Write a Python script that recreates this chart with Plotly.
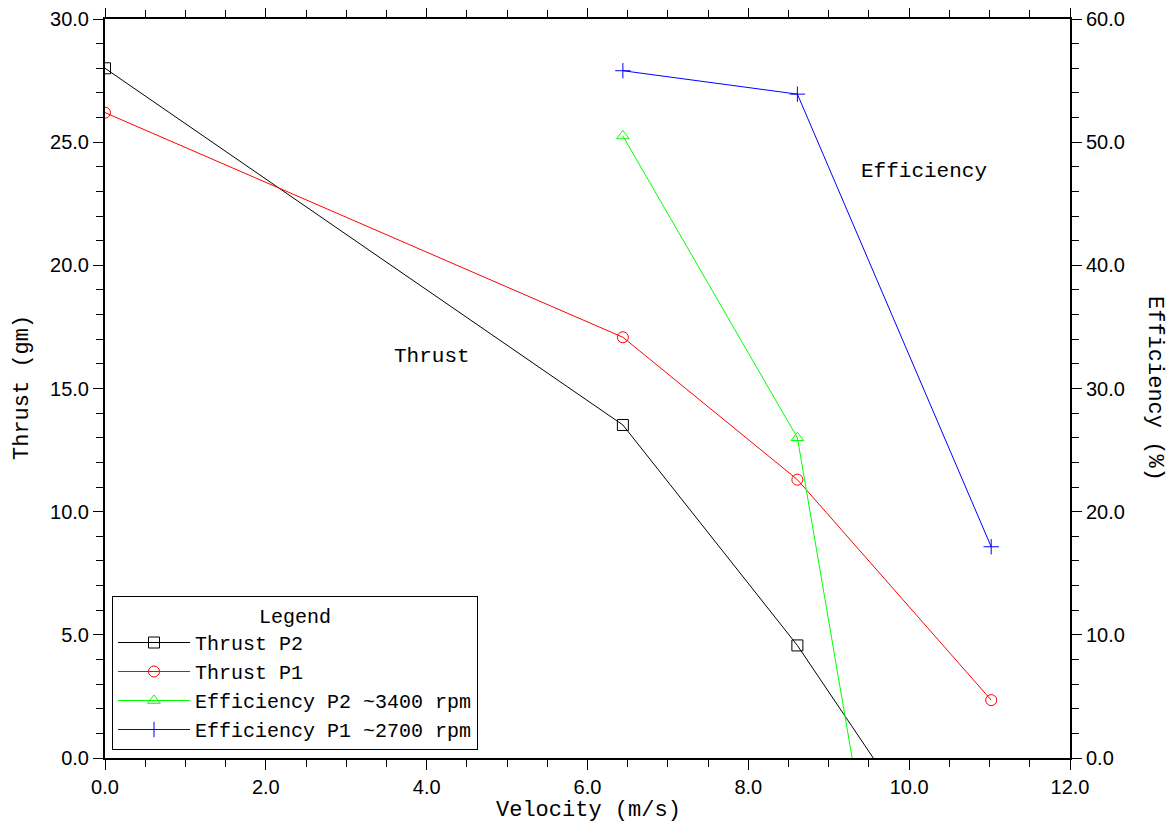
import plotly.graph_objects as go

# ---- data ----
velocity_p2 = [0.0, 6.44, 8.61, 11.02]
thrust_p2 = [28.0, 13.52, 4.57, -7.1]

velocity_p1 = [0.0, 6.44, 8.61, 11.02]
thrust_p1 = [26.2, 17.08, 11.3, 2.35]

eff_velocity = [6.44, 8.61, 11.02]
efficiency_p2 = [50.5, 26.0, -66.0]
efficiency_p1 = [55.8, 53.9, 17.15]

series_names = ["Thrust P2", "Thrust P1",
                "Efficiency P2 ~3400 rpm", "Efficiency P1 ~2700 rpm"]

SERIF = "Liberation Mono"
SANS = "Liberation Sans"

# the page adds an 8px body margin; the figure is sized to fill the rest
OFF = 8
FIG_W, FIG_H = 1175 - OFF, 826 - OFF
# plot-area geometry in page pixels (used only to place free text)
L, R, T, B = 105, 1070, 19, 758
W, H = R - L, B - T


def px_to_paper(px, py):
    return (px - L) / W, (B - py) / H


fig = go.Figure()

fig.add_trace(go.Scatter(
    x=velocity_p2, y=thrust_p2, name=series_names[0], mode="lines+markers",
    line=dict(color="black", width=1),
    marker=dict(symbol="square-open", size=11, color="black", line=dict(width=1, color="black")),
))
fig.add_trace(go.Scatter(
    x=velocity_p1, y=thrust_p1, name=series_names[1], mode="lines+markers",
    line=dict(color="#ff0000", width=1),
    marker=dict(symbol="circle-open", size=11, color="#ff0000", line=dict(width=1, color="#ff0000")),
))
fig.add_trace(go.Scatter(
    x=eff_velocity, y=efficiency_p2, name=series_names[2], mode="lines+markers",
    yaxis="y2",
    line=dict(color="#00ff00", width=1),
    marker=dict(symbol="triangle-up-open", size=11, color="#00ff00", line=dict(width=1, color="#00ff00")),
))
fig.add_trace(go.Scatter(
    x=eff_velocity, y=efficiency_p1, name=series_names[3], mode="lines+markers",
    yaxis="y2",
    line=dict(color="#0000ff", width=1),
    marker=dict(symbol="cross-thin", size=11, color="#0000ff", line=dict(width=1, color="#0000ff")),
))

axis_common = dict(
    showgrid=False, zeroline=False, showline=True, linewidth=2, linecolor="black",
    ticks="outside", ticklen=10, tickwidth=1, tickcolor="black", automargin=False,
    tickformat=".1f", tickfont=dict(family=SANS, size=20, color="black"),
)

title_font = dict(family=SERIF, size=22, color="black")

annotations = []
for text, (px, py), angle in [
    ("Velocity (m/s)", (588, 810), 0),
    ("Thrust (gm)", (23, 388), -90),
    ("Efficiency (%)", (1154, 388), 90),
]:
    ax, ay = px_to_paper(px, py)
    annotations.append(dict(text=text, x=ax, y=ay, xref="paper", yref="paper",
                            xanchor="center", yanchor="middle", showarrow=False,
                            textangle=angle, font=title_font))

annotations += [
    dict(text="Thrust", x=4.07, y=16.3, xref="x", yref="y", showarrow=False,
         font=dict(family=SERIF, size=21, color="black")),
    dict(text="Efficiency", x=10.19, y=23.8, xref="x", yref="y", showarrow=False,
         font=dict(family=SERIF, size=21, color="black")),
]

lx, ly = px_to_paper(112, 750)

fig.update_layout(
    width=FIG_W, height=FIG_H,
    paper_bgcolor="white", plot_bgcolor="white",
    margin=dict(l=L - OFF, r=FIG_W - (R - OFF), t=T - OFF, b=FIG_H - (B - OFF),
                pad=0, autoexpand=False),
    showlegend=True,
    xaxis=dict(
        **axis_common, range=[0, 12], dtick=2, tick0=0, mirror="ticks",
        minor=dict(dtick=0.5, ticks="outside", ticklen=7, tickwidth=1, tickcolor="black"),
    ),
    yaxis=dict(
        **axis_common, range=[0, 30], dtick=5, tick0=0,
        minor=dict(dtick=1, ticks="outside", ticklen=7, tickwidth=1, tickcolor="black"),
    ),
    yaxis2=dict(
        **axis_common, range=[0, 60], dtick=10, tick0=0, overlaying="y", side="right",
        minor=dict(dtick=2, ticks="outside", ticklen=7, tickwidth=1, tickcolor="black"),
    ),
    legend=dict(
        x=lx, y=ly, xanchor="left", yanchor="bottom",
        bgcolor="white", bordercolor="black", borderwidth=1,
        font=dict(family=SERIF, size=20, color="black"),
        title=dict(text="Legend", side="top center", font=dict(family=SERIF, size=20, color="black")),
        itemwidth=72, tracegroupgap=0,
    ),
    annotations=annotations,
)

fig.write_html("out.html")
